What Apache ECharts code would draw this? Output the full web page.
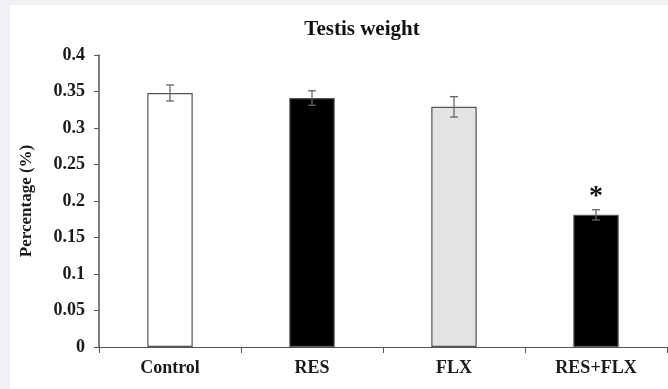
<!DOCTYPE html>
<html>
<head>
<meta charset="utf-8">
<script src="https://cdn.jsdelivr.net/npm/echarts@6/dist/echarts.min.js"></script>
<style>
  html, body { margin: 0; padding: 0; background: #eff1f6; }
  #panel { position: absolute; left: 10px; top: 5px; width: 658px; height: 384px; background: #ffffff; }
  #chart { position: absolute; left: 0; top: 0; width: 668px; height: 389px; }
</style>
</head>
<body>
<div id="panel"></div>
<div id="chart"></div>
<script>
  // data
  var categories = ['Control', 'RES', 'FLX', 'RES+FLX'];
  var means = [0.348, 0.341, 0.329, 0.181];
  var errors = [0.011, 0.010, 0.014, 0.007];
  var marks = ['', '', '', '*'];
  var barColors = ['#ffffff', '#000000', '#e3e3e3', '#000000'];

  var serif = '"Liberation Serif", "DejaVu Serif", serif';

  var myChart = echarts.init(document.getElementById('chart'));

  myChart.setOption({
    animation: false,
    title: {
      text: 'Testis weight',
      left: 357,
      textAlign: 'center',
      top: 14,
      textStyle: { fontFamily: serif, fontWeight: 'bold', fontSize: 21, color: '#111' }
    },
    grid: { left: 99, right: 1, top: 55, bottom: 42 },
    xAxis: {
      type: 'category',
      data: categories,
      axisLine: { lineStyle: { color: '#555', width: 1 } },
      axisTick: { show: true, length: 6, lineStyle: { color: '#555' } },
      axisLabel: { fontFamily: serif, fontWeight: 'bold', fontSize: 18, color: '#1a1a1a', margin: 12 }
    },
    yAxis: {
      type: 'value',
      min: 0,
      max: 0.4,
      interval: 0.05,
      name: 'Percentage (%)',
      nameLocation: 'middle',
      nameGap: 64,
      nameTextStyle: { fontFamily: serif, fontWeight: 'bold', fontSize: 17, color: '#1a1a1a' },
      axisLine: { show: true, lineStyle: { color: '#555', width: 1.5 } },
      axisTick: { show: true, inside: false, length: 5, lineStyle: { color: '#555' } },
      splitLine: { show: false },
      axisLabel: {
        fontFamily: serif, fontWeight: 'bold', fontSize: 18, color: '#1a1a1a', margin: 14,
        formatter: function (v) { return String(+v.toFixed(2)); }
      }
    },
    series: [
      {
        type: 'bar',
        barWidth: '32%',
        data: means.map(function (v, i) {
          return {
            value: v,
            itemStyle: { color: barColors[i], borderColor: '#555', borderWidth: 1.2 }
          };
        })
      },
      {
        type: 'custom',
        z: 5,
        data: means.map(function (v, i) { return [i, v, errors[i]]; }),
        renderItem: function (params, api) {
          var x = api.coord([api.value(0), 0])[0];
          var m = api.value(1), e = api.value(2);
          var hi = api.coord([api.value(0), m + e])[1];
          var lo = api.coord([api.value(0), m - e])[1];
          var cap = 4;
          var style = { stroke: '#666', lineWidth: 1.3 };
          var children = [
            { type: 'line', shape: { x1: x, y1: hi, x2: x, y2: lo }, style: style },
            { type: 'line', shape: { x1: x - cap, y1: hi, x2: x + cap, y2: hi }, style: style },
            { type: 'line', shape: { x1: x - cap, y1: lo, x2: x + cap, y2: lo }, style: style }
          ];
          var mark = marks[params.dataIndex];
          if (mark) {
            children.push({
              type: 'text',
              style: {
                text: mark, x: x, y: hi + 1,
                align: 'center', verticalAlign: 'bottom',
                font: 'bold 28px ' + serif, fill: '#111'
              }
            });
          }
          return { type: 'group', children: children };
        }
      }
    ]
  });
</script>
</body>
</html>
